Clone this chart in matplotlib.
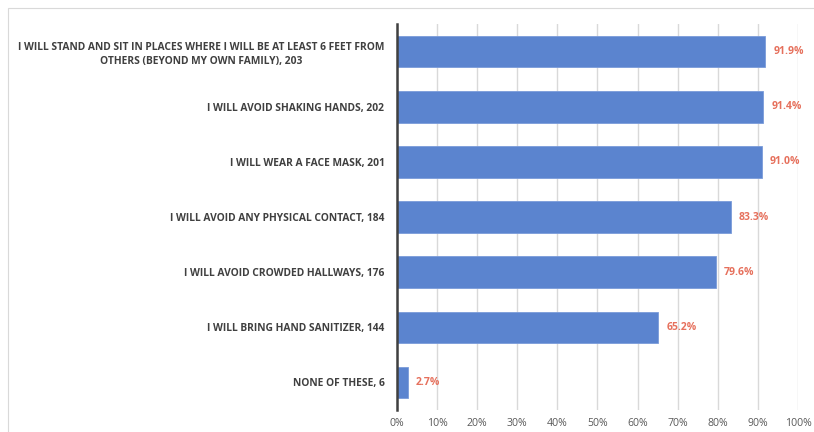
import matplotlib
matplotlib.use('Agg')
import matplotlib.pyplot as plt
from matplotlib.patches import Rectangle

labels = [
    "I WILL STAND AND SIT IN PLACES WHERE I WILL BE AT LEAST 6 FEET FROM\nOTHERS (BEYOND MY OWN FAMILY), 203",
    "I WILL AVOID SHAKING HANDS, 202",
    "I WILL WEAR A FACE MASK, 201",
    "I WILL AVOID ANY PHYSICAL CONTACT, 184",
    "I WILL AVOID CROWDED HALLWAYS, 176",
    "I WILL BRING HAND SANITIZER, 144",
    "NONE OF THESE, 6",
]
shares = [91.9, 91.4, 91.0, 83.3, 79.6, 65.2, 2.7]
ticks = [0, 10, 20, 30, 40, 50, 60, 70, 80, 90, 100]

plt.rcParams['font.family'] = ['Open Sans', 'DejaVu Sans']

fig = plt.figure(figsize=(8.14, 4.32), dpi=100, facecolor='white')
ax = fig.add_axes([0.4877, 0.051, 0.4926, 0.893])

pos = list(range(len(labels)))
ax.barh(pos, shares, height=0.57, color='#5B84CF', edgecolor='#7A9BDA',
        linewidth=0.6, zorder=3)

for y, v in zip(pos, shares):
    ax.text(v + 2.0, y, f"{v:.1f}%", color='#E6705C', fontsize=7.5,
            fontweight='bold', va='center', ha='left', zorder=4)

ax.set_xlim(0, 100)
ax.set_ylim(len(labels) - 0.5, -0.5)
ax.set_xticks(ticks)
ax.set_xticklabels([f"{t}%" for t in ticks], color='#595959', fontsize=7.6)
ax.set_yticks(pos)
ax.set_yticklabels(labels, color='#404040', fontsize=7.4, fontweight='bold',
                   multialignment='center', linespacing=1.3)
ax.tick_params(axis='both', length=0)
ax.tick_params(axis='y', pad=9)
ax.tick_params(axis='x', pad=6)

ax.grid(axis='x', color='#D9D9D9', linewidth=1, zorder=0)
for s in ['top', 'right', 'bottom']:
    ax.spines[s].set_visible(False)
ax.spines['left'].set_color('#404040')
ax.spines['left'].set_linewidth(1.8)
ax.spines['left'].set_zorder(5)

# light chart border (right and bottom edges fall outside the crop)
fig.patches.append(Rectangle((8 / 814, -0.01), 1.0, 1 - 8 / 432 + 0.01,
                             transform=fig.transFigure, fill=False,
                             edgecolor='#D9D9D9', linewidth=0.8))

fig.savefig('out.png', dpi=100, facecolor='white')
